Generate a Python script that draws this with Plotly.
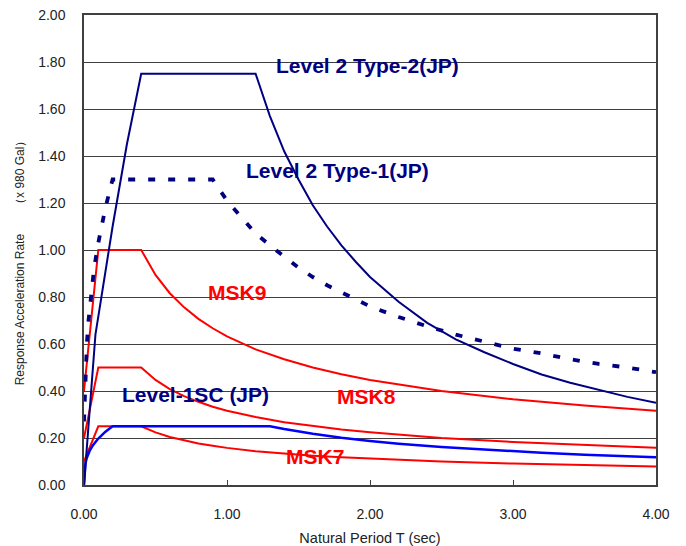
import plotly.graph_objects as go

# Natural period T (sec) and response acceleration rate (x 980 Gal) for each design spectrum
t_type2 = [0.0, 0.08, 0.2, 0.3, 0.4, 1.2, 1.3, 1.4, 1.5, 1.6, 1.7, 1.8, 1.9, 2.0,
           2.2, 2.4, 2.6, 2.8, 3.0, 3.2, 3.4, 3.6, 3.8, 4.0]
s_type2 = [0.0, 0.64, 1.10, 1.45, 1.75, 1.75, 1.57, 1.42, 1.30, 1.19, 1.10, 1.02, 0.95, 0.885,
           0.78, 0.69, 0.62, 0.565, 0.515, 0.47, 0.435, 0.405, 0.375, 0.35]

t_type1 = [0.0, 0.01, 0.02, 0.03, 0.05, 0.07, 0.1, 0.15, 0.2, 0.9, 1.0, 1.1, 1.2, 1.3,
           1.4, 1.5, 1.6, 1.7, 1.8, 2.0, 2.2, 2.4, 2.6, 2.8, 3.0, 3.2, 3.4, 3.6, 3.8, 4.0]
s_type1 = [0.27, 0.48, 0.60, 0.69, 0.82, 0.92, 1.03, 1.18, 1.30, 1.30, 1.21, 1.14, 1.07, 1.02,
           0.97, 0.925, 0.885, 0.85, 0.82, 0.76, 0.715, 0.675, 0.64, 0.61, 0.58, 0.56, 0.535,
           0.515, 0.50, 0.48]

t_level1 = [0.0, 0.01, 0.02, 0.04, 0.06, 0.1, 0.15, 0.2, 1.3, 1.4, 1.6, 1.8, 2.0, 2.2,
            2.5, 2.8, 3.0, 3.2, 3.5, 3.8, 4.0]
s_level1 = [0.0, 0.092, 0.116, 0.146, 0.167, 0.198, 0.227, 0.25, 0.25, 0.238, 0.218, 0.201,
            0.1875, 0.176, 0.162, 0.150, 0.143, 0.137, 0.129, 0.122, 0.118]

t_msk = [0.0, 0.1, 0.4, 0.5, 0.6, 0.7, 0.8, 0.9, 1.0, 1.2, 1.4, 1.6, 1.8, 2.0, 2.5, 3.0, 3.5, 4.0]
s_msk9 = [0.40, 1.0, 1.0, 0.894, 0.816, 0.756, 0.707, 0.667, 0.632, 0.577, 0.535, 0.50,
          0.471, 0.447, 0.40, 0.365, 0.338, 0.316]
s_msk8 = [0.20, 0.50, 0.50, 0.447, 0.408, 0.378, 0.354, 0.333, 0.316, 0.289, 0.267, 0.25,
          0.236, 0.224, 0.20, 0.183, 0.169, 0.158]
s_msk7 = [0.10, 0.25, 0.25, 0.224, 0.204, 0.189, 0.177, 0.167, 0.158, 0.144, 0.134, 0.125,
          0.118, 0.112, 0.10, 0.091, 0.085, 0.079]

x_ticks = [0, 1, 2, 3, 4]
y_ticks = [0.0, 0.2, 0.4, 0.6, 0.8, 1.0, 1.2, 1.4, 1.6, 1.8, 2.0]

NAVY = "#000080"
RED = "#FF0000"
BLUE = "#0000FF"
TEXT = "#222222"
FONT = "Liberation Sans, Arial, sans-serif"

fig = go.Figure()

for s in (s_msk7, s_msk8, s_msk9):
    fig.add_trace(go.Scatter(x=t_msk, y=s, mode="lines",
                             line=dict(color=RED, width=2), hoverinfo="skip"))

fig.add_trace(go.Scatter(x=t_level1, y=s_level1, mode="lines",
                         line=dict(color=BLUE, width=2.5), hoverinfo="skip"))
fig.add_trace(go.Scatter(x=t_type1, y=s_type1, mode="lines",
                         line=dict(color=NAVY, width=3.8, dash="7px,13px"), hoverinfo="skip"))
fig.add_trace(go.Scatter(x=t_type2, y=s_type2, mode="lines",
                         line=dict(color=NAVY, width=2), hoverinfo="skip"))


def label(text, x, y, color):
    fig.add_annotation(x=x, y=y, xref="x", yref="y", text="<b>%s</b>" % text,
                       showarrow=False, xanchor="left", yanchor="middle",
                       font=dict(color=color, family=FONT, size=21))


label("Level 2 Type-2(JP)", 1.33, 1.785, NAVY)
label("Level 2 Type-1(JP)", 1.12, 1.34, NAVY)
label("MSK9", 0.855, 0.82, RED)
label("Level-1SC (JP)", 0.25, 0.385, NAVY)
label("MSK8", 1.755, 0.378, RED)
label("MSK7", 1.40, 0.122, RED)

# vertical axis title, set beside the tick labels
fig.add_annotation(x=-0.112, y=0.48, xref="paper", yref="paper",
                   text="Response Acceleration Rate　　（x 980 Gal）",
                   textangle=-90, showarrow=False, xanchor="center", yanchor="middle",
                   font=dict(family=FONT, size=12, color=TEXT))

tick_font = dict(family=FONT, size=14, color=TEXT)

fig.update_layout(
    width=686, height=546,
    margin=dict(l=84, r=30, t=15, b=61),
    paper_bgcolor="white", plot_bgcolor="white",
    showlegend=False,
    xaxis=dict(
        range=[0, 4], tickvals=x_ticks, ticktext=["%.2f" % v for v in x_ticks],
        ticks="inside", ticklen=5, tickcolor="#404040", tickwidth=1,
        showgrid=False, zeroline=False, automargin=False,
        showline=True, linecolor="#404040", linewidth=1.5, mirror=True,
        tickfont=tick_font, ticklabelstandoff=15,
        title=dict(text="Natural Period T (sec)",
                   font=dict(family=FONT, size=14.5, color=TEXT),
                   standoff=12),
    ),
    yaxis=dict(
        range=[0, 2], tickvals=y_ticks, ticktext=["%.2f" % v for v in y_ticks],
        ticks="", showgrid=True, gridcolor="#404040", gridwidth=1,
        zeroline=False, automargin=False,
        showline=True, linecolor="#404040", linewidth=1.5, mirror=True,
        tickfont=tick_font, ticklabelstandoff=14,
    ),
)

fig.write_html("out.html")
